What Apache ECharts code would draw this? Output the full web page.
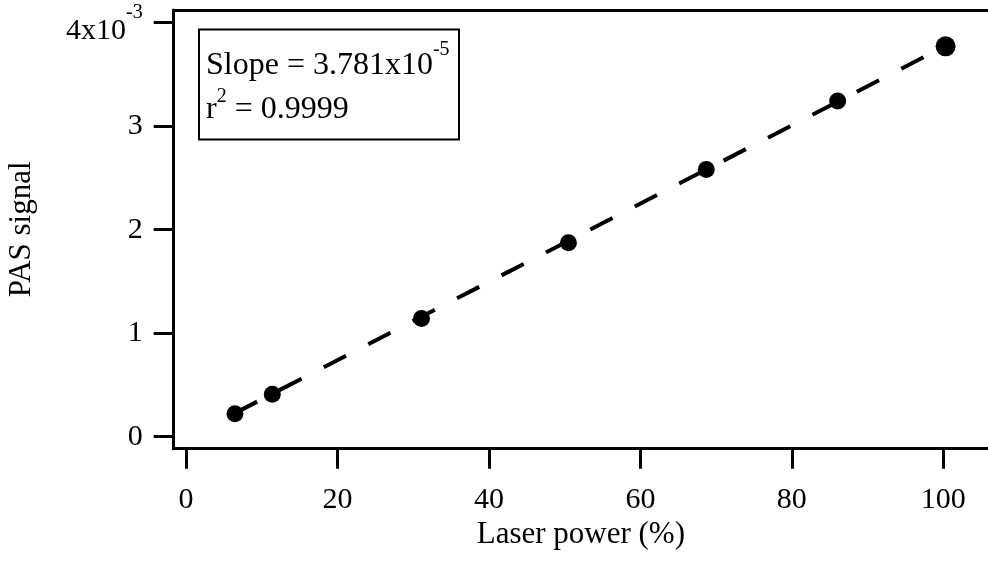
<!DOCTYPE html>
<html>
<head>
<meta charset="utf-8">
<script src="https://cdn.jsdelivr.net/npm/echarts@6/dist/echarts.min.js"></script>
<style>html,body{margin:0;padding:0;background:#fff}#c{width:988px;height:561px}</style>
</head>
<body>
<div id="c"></div>
<script>
// Data (PAS signal in units of 10^-3)
const laserPower = [6.47, 11.4, 31.1, 50.5, 68.7, 86.05, 100.3];
const pasSignal  = [0.221, 0.41, 1.143, 1.875, 2.582, 3.243, 3.772];
const fitX = [6.47, 100.3];
const fitY = [0.228, 3.776];
const xTicks = [0, 20, 40, 60, 80, 100];
const yTicks = [0, 1, 2, 3, 4];
const xTitle = 'Laser power (%)';
const yTitle = 'PAS signal';
const slopeText = ['Slope = 3.781x10', '-5'];
const r2Text = ['r', '2', ' = 0.9999'];

const FF = '"Liberation Serif", "Times New Roman", serif';
const chart = echarts.init(document.getElementById('c'), null, {renderer: 'canvas'});

const xMin = -1.62, xMax = 105.9, yMin = -0.116, yMax = 4.123;

chart.setOption({
  animation: false,
  backgroundColor: '#fff',
  grid: {left: 173.7, top: 10, right: 0, bottom: 112.3, containLabel: false, outerBoundsMode: 'none'},
  xAxis: [{
    type: 'value', position: 'bottom', min: xMin, max: xMax,
    axisLine: {show: true, onZero: false, lineStyle: {color: '#000', width: 3}},
    axisTick: {show: true, inside: false, length: 20, customValues: xTicks, lineStyle: {color: '#000', width: 3}},
    axisLabel: {customValues: xTicks, margin: 36, fontSize: 30, color: '#000', fontFamily: FF},
    splitLine: {show: false},
    name: xTitle, nameLocation: 'middle', nameGap: 64,
    nameTextStyle: {fontSize: 31, color: '#000', fontFamily: FF}
  }, {
    type: 'value', position: 'top', min: xMin, max: xMax,
    axisLine: {show: true, onZero: false, lineStyle: {color: '#000', width: 3}},
    axisTick: {show: false}, axisLabel: {show: false}, splitLine: {show: false}
  }],
  yAxis: {
    type: 'value', position: 'left', min: yMin, max: yMax,
    axisLine: {show: true, onZero: false, lineStyle: {color: '#000', width: 3}},
    axisTick: {show: true, inside: false, length: 20, customValues: yTicks, lineStyle: {color: '#000', width: 3}},
    axisLabel: {
      customValues: yTicks, margin: 31, fontSize: 30, color: '#000', fontFamily: FF,
      formatter: function (v) {
        if (v === 4) return '{m|4x10}{s|-3}';
        return String(v);
      },
      rich: {
        m: {fontSize: 30, fontFamily: FF, color: '#000', padding: [16, 0, 0, 0]},
        s: {fontSize: 20, fontFamily: FF, color: '#000', padding: [0, 0, 20, 0]}
      }
    },
    splitLine: {show: false},
    name: yTitle, nameLocation: 'middle', nameGap: 136,
    nameTextStyle: {fontSize: 31, color: '#000', fontFamily: FF}
  },
  series: [{
    type: 'line',
    data: fitX.map((x, i) => [x, fitY[i]]),
    symbol: 'none', showSymbol: false, silent: true, z: 2,
    lineStyle: {color: '#000', width: 4, type: [25, 25], dashOffset: 0, cap: 'butt', opacity: 1}
  }, {
    type: 'scatter',
    data: laserPower.map((x, i) => [x, pasSignal[i]]),
    symbol: 'circle',
    symbolSize: function (v, p) { return p.dataIndex === laserPower.length - 1 ? 20 : 17; },
    itemStyle: {color: '#000', opacity: 1}, z: 3
  }],
  graphic: [{
    type: 'rect', z: 10,
    shape: {x: 199, y: 29.5, width: 260, height: 110},
    style: {fill: '#fff', stroke: '#000', lineWidth: 2}
  }, {
    type: 'text', z: 11, x: 206, y: 66,
    style: {
      text: '{m|' + slopeText[0] + '}{s|' + slopeText[1] + '}',
      align: 'left', verticalAlign: 'middle', fill: '#000',
      rich: {
        m: {fontSize: 32, fontFamily: FF, fill: '#000'},
        s: {fontSize: 20, fontFamily: FF, fill: '#000', padding: [0, 0, 32, 0]}
      }
    }
  }, {
    type: 'text', z: 11, x: 206, y: 110,
    style: {
      text: '{m|' + r2Text[0] + '}{s|' + r2Text[1] + '}{m|' + r2Text[2] + '}',
      align: 'left', verticalAlign: 'middle', fill: '#000',
      rich: {
        m: {fontSize: 32, fontFamily: FF, fill: '#000'},
        s: {fontSize: 20, fontFamily: FF, fill: '#000', padding: [0, 0, 27, 0]}
      }
    }
  }]
});
</script>
</body>
</html>
